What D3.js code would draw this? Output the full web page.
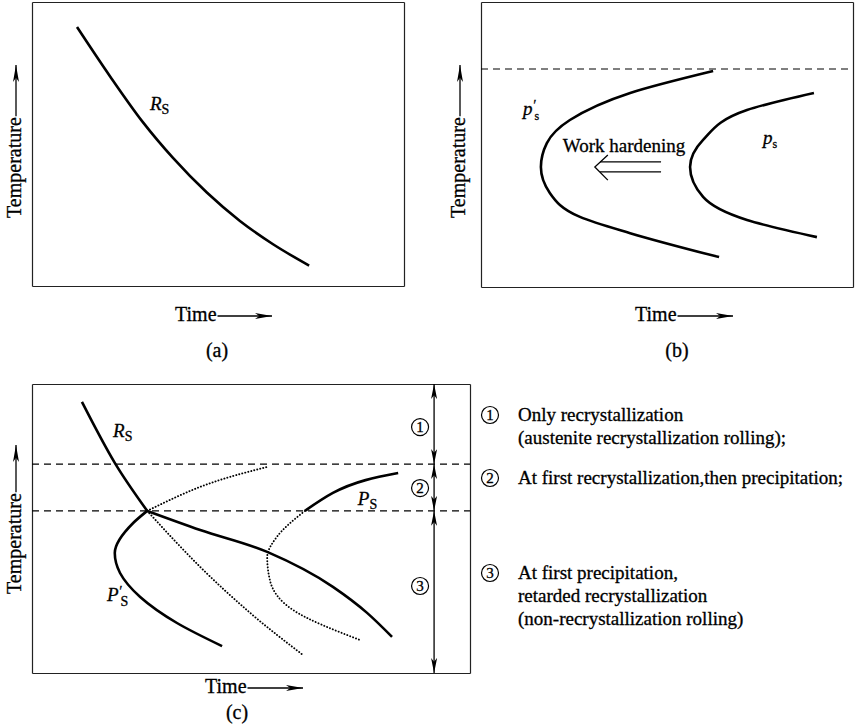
<!DOCTYPE html>
<html>
<head>
<meta charset="utf-8">
<script src="https://cdn.jsdelivr.net/npm/d3@7"></script>
<style>
  body { margin: 0; background: #fff; }
  svg { display: block; font-family: "Liberation Serif", "Times New Roman", serif; }
  text { fill: #000; stroke: #000; stroke-width: 0.3px; }
</style>
</head>
<body>
<svg id="chart" width="863" height="724"></svg>
<script>
// All curves in panel units: time 0-100 (left to right), temperature 0-100 (bottom to top)

// (a) recrystallization start
const rsA = [[12.1, 91.2], [21.0, 73.8], [29.8, 57.7], [37.9, 45.1], [47.0, 32.9], [55.9, 22.9], [64.8, 14.7], [74.5, 7.2]];

// (b) precipitation start with deformation (p's) and without (ps)
const psPrimeB = [[62.4, 75.8], [40.1, 68.1], [23.9, 58.6], [17.7, 50.5], [16.1, 42.1], [18.5, 33.0], [26.6, 24.6], [40.1, 18.9], [64.0, 10.5]];
const psB = [[89.5, 68.1], [71.5, 62.1], [59.7, 51.6], [56.2, 42.1], [59.7, 31.6], [71.5, 23.5], [90.3, 17.5]];
const dashB = [76.5];
const workLinesB = [[[32.0, 43.9], [48.4, 43.9]], [[32.0, 40.4], [48.4, 40.4]]];
const workHeadB = [[34.1, 46.3], [30.6, 42.1], [34.1, 37.5]];

// (c) combined diagram
const rsC = [[11.4, 93.8], [18.9, 72.7], [26.3, 56.1]];
const mainC = [[26.3, 56.1], [38.4, 49.5], [53.7, 41.9], [68.7, 29.8], [76.5, 20.8], [82.2, 12.5]];
const psPrimeC = [[26.3, 56.1], [23.1, 51.9], [18.9, 41.5], [20.1, 34.6], [24.7, 26.3], [33.1, 17.3], [43.4, 9.3]];
const dotUpC = [[26.3, 56.1], [38.4, 64.4], [53.7, 71.3]];
const dotDownC = [[26.3, 56.1], [38.4, 36.7], [49.8, 20.8], [61.9, 6.2]];
const psDotC = [[62.3, 56.1], [55.9, 47.1], [53.7, 40.1], [54.3, 32.2], [59.6, 21.8], [74.9, 11.4]];
const psSolidC = [[62.3, 56.1], [68.7, 62.3], [83.6, 69.2]];
const dashC = [72.3, 56.1];
const regionBounds = [100, 72.3, 56.1, 0];
const regionX = 91.8;
const regionNums = ['1', '2', '3'];
const regionNumPos = [[88.6, 85.1], [88.6, 64.0], [88.6, 30.1]];

// legend text for the regions
const legendNums = ['1', '2', '3'];
const legendLines = [
  ['Only recrystallization', '(austenite recrystallization rolling);'],
  ['At first recrystallization,then precipitation;'],
  ['At first precipitation,', 'retarded recrystallization', '(non-recrystallization rolling)']
];

const svg = d3.select('#chart');
const FS = 19;
const AXIS_FS = 20;

const panels = {
  a: { left: 32, top: 2, width: 372, height: 284, tempX: 21, tempStart: 218, tempTip: 65, timeX: 175, timeY: 321, timeTip: 272, capX: 217, capY: 357, cap: '(a)' },
  b: { left: 481, top: 2, width: 372, height: 285, tempX: 465, tempStart: 218, tempTip: 65, timeX: 635, timeY: 321, timeTip: 733, capX: 677, capY: 357, cap: '(b)' },
  c: { left: 32, top: 384, width: 438, height: 289, tempX: 21, tempStart: 594, tempTip: 445, timeX: 205, timeY: 693, timeTip: 303, capX: 237, capY: 719, cap: '(c)' }
};

// arrowheads
const defs = svg.append('defs');
function addHead(id, len, wid) {
  defs.append('marker')
    .attr('id', id)
    .attr('viewBox', `0 0 ${len} ${wid}`)
    .attr('refX', len).attr('refY', wid / 2)
    .attr('markerWidth', len).attr('markerHeight', wid)
    .attr('markerUnits', 'userSpaceOnUse')
    .attr('orient', 'auto-start-reverse')
    .append('path')
    .attr('d', `M0,0 L${len},${wid / 2} L0,${wid} L${len * 0.25},${wid / 2} Z`)
    .attr('fill', '#000');
}
addHead('axisHead', 17, 6);
addHead('regionHead', 15, 6);

function scalesFor(p) {
  return {
    x: d3.scaleLinear().domain([0, 100]).range([p.left, p.left + p.width]),
    y: d3.scaleLinear().domain([0, 100]).range([p.top + p.height, p.top])
  };
}

function drawFrame(p, s) {
  const h = p.height, w = p.width;
  const frame = svg.append('g').attr('class', 'frame');
  const noTicks = a => a.ticks(0).tickSizeOuter(0);
  frame.append('g').attr('transform', `translate(0,${p.top + h})`).call(noTicks(d3.axisBottom(s.x)));
  frame.append('g').attr('transform', `translate(0,${p.top})`).call(noTicks(d3.axisTop(s.x)));
  frame.append('g').attr('transform', `translate(${p.left},0)`).call(noTicks(d3.axisLeft(s.y)));
  frame.append('g').attr('transform', `translate(${p.left + w},0)`).call(noTicks(d3.axisRight(s.y)));
  frame.selectAll('.domain').attr('stroke', '#222').attr('stroke-width', 1.2);

  // Temperature label, rotated, with arrow
  const t = svg.append('text')
    .attr('transform', `translate(${p.tempX},${p.tempStart}) rotate(-90)`)
    .attr('font-size', AXIS_FS)
    .text('Temperature');
  const tl = t.node().getComputedTextLength();
  svg.append('line')
    .attr('x1', p.tempX - 5).attr('x2', p.tempX - 5)
    .attr('y1', p.tempStart - tl - 1).attr('y2', p.tempTip)
    .attr('stroke', '#000').attr('stroke-width', 1.3)
    .attr('marker-end', 'url(#axisHead)');

  // Time label with arrow
  const tm = svg.append('text')
    .attr('x', p.timeX).attr('y', p.timeY)
    .attr('font-size', AXIS_FS)
    .text('Time');
  const ml = tm.node().getComputedTextLength();
  svg.append('line')
    .attr('x1', p.timeX + ml + 1).attr('x2', p.timeTip)
    .attr('y1', p.timeY - 5).attr('y2', p.timeY - 5)
    .attr('stroke', '#000').attr('stroke-width', 1.3)
    .attr('marker-end', 'url(#axisHead)');

  svg.append('text')
    .attr('x', p.capX).attr('y', p.capY)
    .attr('text-anchor', 'middle')
    .attr('font-size', AXIS_FS)
    .text(p.cap);
}

// kind: 'x' for curves that move steadily in time, 'y' for the C-shaped ones
function curve(s, data, style, kind) {
  const gen = d3.line()
    .x(d => s.x(d[0]))
    .y(d => s.y(d[1]))
    .curve(kind === 'y' ? d3.curveMonotoneY : d3.curveMonotoneX);
  const path = svg.append('path')
    .datum(data)
    .attr('d', gen)
    .attr('fill', 'none')
    .attr('stroke', '#000')
    .attr('stroke-linecap', style === 'dot' ? 'round' : 'butt');
  if (style === 'dot') {
    path.attr('stroke-width', 1.9).attr('stroke-dasharray', '0.1,3');
  } else {
    path.attr('stroke-width', 2.6);
  }
  return path;
}

function dashLevels(s, levels) {
  svg.append('g').selectAll('line')
    .data(levels)
    .join('line')
    .attr('x1', s.x(0)).attr('x2', s.x(100))
    .attr('y1', d => s.y(d)).attr('y2', d => s.y(d))
    .attr('stroke', '#000')
    .attr('stroke-width', 1.2)
    .attr('stroke-dasharray', '7,5');
}

// label like R_S, p'_s
function subLabel(s, x, y, main, sub, prime, upperSub) {
  const g = svg.append('text')
    .attr('x', s.x(x)).attr('y', s.y(y))
    .attr('font-size', FS);
  g.append('tspan').attr('font-style', 'italic').text(main);
  if (prime) {
    g.append('tspan').attr('font-style', 'italic').attr('font-size', 14).attr('dy', -5).text('\u2032');
    g.append('tspan').attr('font-size', upperSub ? 14 : 12).attr('dx', -1).attr('dy', 10).text(sub);
  } else {
    g.append('tspan').attr('font-size', upperSub ? 14 : 12).attr('dy', 4).text(sub);
  }
}

function circledNum(cx, cy, n) {
  svg.append('circle')
    .attr('cx', cx).attr('cy', cy).attr('r', 8.5)
    .attr('fill', 'none').attr('stroke', '#000').attr('stroke-width', 1.2);
  svg.append('text')
    .attr('x', cx).attr('y', cy + 5)
    .attr('text-anchor', 'middle')
    .attr('font-size', 15)
    .text(n);
}

// ---- panel (a)
const sa = scalesFor(panels.a);
drawFrame(panels.a, sa);
curve(sa, rsA, 'solid', 'x');
subLabel(sa, 31.7, 62, 'R', 'S', false, true);

// ---- panel (b)
const sb = scalesFor(panels.b);
drawFrame(panels.b, sb);
dashLevels(sb, dashB);
curve(sb, psPrimeB, 'solid', 'y');
curve(sb, psB, 'solid', 'y');
subLabel(sb, 11.3, 60.4, 'p', 's', true, false);
subLabel(sb, 75.8, 50.2, 'p', 's', false, false);
svg.append('text')
  .attr('x', sb.x(22.0)).attr('y', sb.y(47.4))
  .attr('font-size', FS)
  .text('Work hardening');
svg.append('g').selectAll('line')
  .data(workLinesB)
  .join('line')
  .attr('x1', d => sb.x(d[0][0])).attr('y1', d => sb.y(d[0][1]))
  .attr('x2', d => sb.x(d[1][0])).attr('y2', d => sb.y(d[1][1]))
  .attr('stroke', '#000').attr('stroke-width', 1.3);
svg.append('path')
  .datum(workHeadB)
  .attr('d', d3.line().x(d => sb.x(d[0])).y(d => sb.y(d[1])))
  .attr('fill', 'none').attr('stroke', '#000').attr('stroke-width', 1.3);

// ---- panel (c)
const sc = scalesFor(panels.c);
drawFrame(panels.c, sc);
dashLevels(sc, dashC);
curve(sc, dotUpC, 'dot', 'x');
curve(sc, dotDownC, 'dot', 'x');
curve(sc, psDotC, 'dot', 'y');
curve(sc, rsC, 'solid', 'x');
curve(sc, mainC, 'solid', 'x');
curve(sc, psPrimeC, 'solid', 'y');
curve(sc, psSolidC, 'solid', 'x');
subLabel(sc, 18.5, 81.7, 'R', 'S', false, true);
subLabel(sc, 74.4, 58.1, 'P', 'S', false, true);
subLabel(sc, 17.1, 24.9, 'P', 'S', true, true);

// region double arrows
const segs = d3.pairs(regionBounds);
svg.append('g').selectAll('line')
  .data(segs)
  .join('line')
  .attr('x1', sc.x(regionX)).attr('x2', sc.x(regionX))
  .attr('y1', d => sc.y(d[0])).attr('y2', d => sc.y(d[1]))
  .attr('stroke', '#000').attr('stroke-width', 1.3)
  .attr('marker-start', 'url(#regionHead)')
  .attr('marker-end', 'url(#regionHead)');
regionNums.forEach((n, i) => circledNum(sc.x(regionNumPos[i][0]), sc.y(regionNumPos[i][1]), n));

// ---- legend on the right of (c)
const legendCircleX = 490, legendTextX = 518;
const legendTop = [421, 484, 579];
const legendStep = 23;
legendLines.forEach((lines, i) => {
  circledNum(legendCircleX, legendTop[i] - 6, legendNums[i]);
  lines.forEach((ln, j) => {
    svg.append('text')
      .attr('x', legendTextX).attr('y', legendTop[i] + j * legendStep)
      .attr('font-size', FS)
      .text(ln);
  });
});
</script>
</body>
</html>
